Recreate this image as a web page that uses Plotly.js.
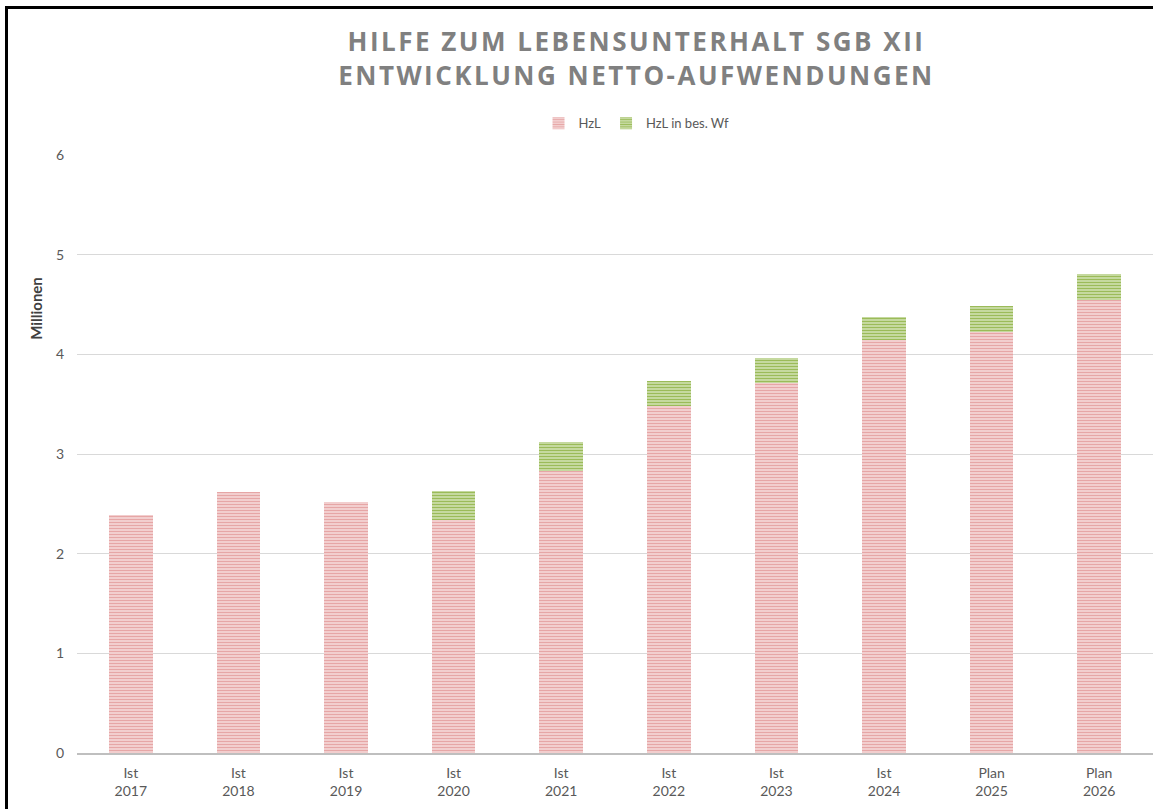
<!DOCTYPE html>
<html>
<head>
<meta charset="utf-8">
<script src="https://cdn.plot.ly/plotly-3.0.1.min.js"></script>
<style>
  html, body { margin: 0; padding: 0; background: #ffffff; overflow: hidden; }
  #chart { width: 1153px; height: 809px; position: relative; }
  #frame { position: absolute; left: 5px; top: 6px; width: 1148px; height: 803px;
           border-left: 3px solid #000; border-top: 3px solid #000; pointer-events: none; box-sizing: border-box; }
</style>
</head>
<body>
<div id="chart"></div>
<div id="frame"></div>
<script>
const categories = ["Ist<br>2017", "Ist<br>2018", "Ist<br>2019", "Ist<br>2020", "Ist<br>2021",
                    "Ist<br>2022", "Ist<br>2023", "Ist<br>2024", "Plan<br>2025", "Plan<br>2026"];
const hzl = [2.39, 2.62, 2.52, 2.34, 2.83, 3.48, 3.71, 4.14, 4.22, 4.55];
const hzlBesWf = [null, null, null, 0.29, 0.29, 0.25, 0.25, 0.23, 0.26, 0.26];
const seriesNames = ["HzL", "HzL in bes. Wf"];
const yTicks = [0, 1, 2, 3, 4, 5, 6];

const baseFont = "Lato, 'Open Sans', sans-serif";

const traces = [
  {
    type: "bar", name: seriesNames[0], x: categories, y: hzl,
    marker: { color: "#f0bcbc",
              pattern: { shape: "-", fgcolor: "#e6a6a6", bgcolor: "#f7dcdc", size: 3, solidity: 0.5 },
              line: { width: 0 } },
    hoverinfo: "y"
  },
  {
    type: "bar", name: seriesNames[1], x: categories, y: hzlBesWf,
    marker: { color: "#b5cf85",
              pattern: { shape: "-", fgcolor: "#9bbb59", bgcolor: "#d3e3b6", size: 3, solidity: 0.5 },
              line: { width: 0 } },
    hoverinfo: "y"
  }
];

const layout = {
  width: 1153, height: 809,
  margin: { l: 77, r: 0, t: 155, b: 55.5 },
  paper_bgcolor: "#ffffff", plot_bgcolor: "#ffffff",
  barmode: "stack", bargap: 0.596,
  font: { family: baseFont, color: "#595959", size: 14 },
  title: {
    text: "HILFE ZUM LEBENSUNTERHALT SGB XII<br>ENTWICKLUNG NETTO-AUFWENDUNGEN",
    font: { family: "'Open Sans', sans-serif", size: 26, color: "#808080", weight: 700 },
    x: 0.552, xanchor: "center", xref: "container",
    y: 0.937, yanchor: "top", yref: "container"
  },
  legend: {
    orientation: "h", x: 0.52, xanchor: "center", y: 1.053, yanchor: "middle",
    font: { family: baseFont, size: 13, color: "#595959" },
    itemwidth: 30, traceorder: "normal"
  },
  xaxis: {
    type: "category", tickfont: { family: baseFont, size: 14, color: "#595959" },
    showgrid: false, ticks: "", showline: true, linecolor: "#bfbfbf", linewidth: 2,
    zeroline: false, fixedrange: true, ticklabelstandoff: 6
  },
  yaxis: {
    range: [0, 6], tickvals: yTicks, ticktext: yTicks.map(String),
    tickfont: { family: baseFont, size: 14, color: "#595959" },
    showgrid: true, gridcolor: "#d9d9d9", gridwidth: 1,
    zeroline: false, showline: false, ticks: "", ticklabelstandoff: 12, fixedrange: true
  },
  annotations: [{
    text: "<b>Millionen</b>", xref: "paper", yref: "paper",
    x: -0.0381, y: 0.7427, xanchor: "center", yanchor: "middle",
    textangle: -90, showarrow: false,
    font: { family: baseFont, size: 15, color: "#404040" }
  }],
  showlegend: true
};

Plotly.newPlot("chart", traces, layout, { displayModeBar: false }).then(function (gd) {
  const t = gd.querySelector(".gtitle");
  if (t) { t.style.letterSpacing = "2.5px"; }
});
</script>
</body>
</html>
